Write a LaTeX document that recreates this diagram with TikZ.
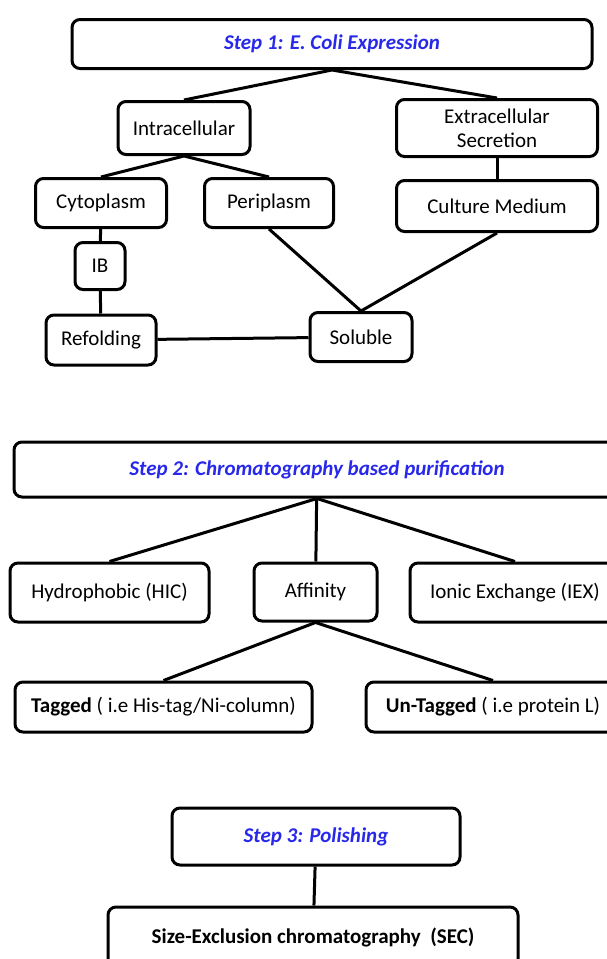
\documentclass[tikz,border=0pt]{standalone}
\usepackage{fontspec}
\setmainfont{Carlito}
\definecolor{stepblue}{RGB}{40,40,235}

\begin{document}
\begin{tikzpicture}[x=1pt, y=-1pt,
    box/.style={draw, line width=3pt, rounded corners=8pt, align=center, inner sep=2pt,
        font=\fontsize{21}{24}\selectfont},
    stepbox/.style={box, text=stepblue, font=\fontsize{21}{24}\selectfont\bfseries\itshape},
    link/.style={line width=3pt}]
\useasboundingbox (0,0) rectangle (607,959);
\clip (0,0) rectangle (607,959);
% --- step 1 ---
\begin{scope}
    \node[stepbox, minimum width=520, minimum height=49] (s1) at (332,44) {Step 1: E. Coli Expression};
    \node[box, minimum width=132, minimum height=53] (intra) at (184,128) {Intracellular};
    \node[box, minimum width=201, minimum height=57] (extra) at (497,128) {Extracellular\\Secretion};
    \node[box, minimum width=131, minimum height=49] (cyto) at (101,203) {Cytoplasm};
    \node[box, minimum width=129, minimum height=49] (peri) at (269,203) {Periplasm};
    \node[box, minimum width=201, minimum height=51] (medium) at (497,206) {Culture Medium};
    \node[box, minimum width=50, minimum height=47] (ib) at (100,266) {IB};
    \node[box, minimum width=110, minimum height=50] (refold) at (101,340) {Refolding};
    \node[box, minimum width=102, minimum height=49] (soluble) at (361,337) {Soluble};
    \draw[link] (intra.north) -- (s1.south) -- (extra.north);
    \draw[link] (cyto.north) -- (intra.south) -- (peri.north);
    \draw[link] (extra) -- (medium);
    \draw[link] (cyto) -- (ib) -- (refold);
    \draw[link] (peri.south) -- (soluble.north) -- (medium.south);
    \draw[link] (refold) -- (soluble);
\end{scope}
% --- step 2 ---
\begin{scope}
    \node[stepbox, minimum width=606, minimum height=55] (s2) at (317,469.5) {Step 2: Chromatography based purification};
    \node[box, minimum width=199, minimum height=59] (hic) at (109.5,592.5) {Hydrophobic (HIC)};
    \node[box, minimum width=123, minimum height=58] (aff) at (315.5,592) {Affinity};
    \node[box, minimum width=210, minimum height=59] (iex) at (515,592.5) {Ionic Exchange (IEX)};
    \node[box, minimum width=297, minimum height=50] (tag) at (163.5,707) {\textbf{Tagged} ( i.e His-tag/Ni-column)};
    \node[box, minimum width=254, minimum height=50] (untag) at (493,707) {\textbf{Un-Tagged} ( i.e protein L)};
    \draw[link] (hic.north) -- (s2.south) -- (iex.north);
    \draw[link] (s2) -- (aff);
    \draw[link] (tag.north) -- (aff.south) -- (untag.north);
\end{scope}
% --- step 3 ---
\begin{scope}
    \node[stepbox, minimum width=288, minimum height=57] (s3) at (316,836.5) {Step 3: Polishing};
    \node[box, minimum width=410, minimum height=60, font=\fontsize{21}{24}\selectfont\bfseries] (sec) at (313,937) {Size-Exclusion chromatography\ \ (SEC)};
    \draw[link] (s3) -- (sec);
\end{scope}
\end{tikzpicture}
\end{document}
